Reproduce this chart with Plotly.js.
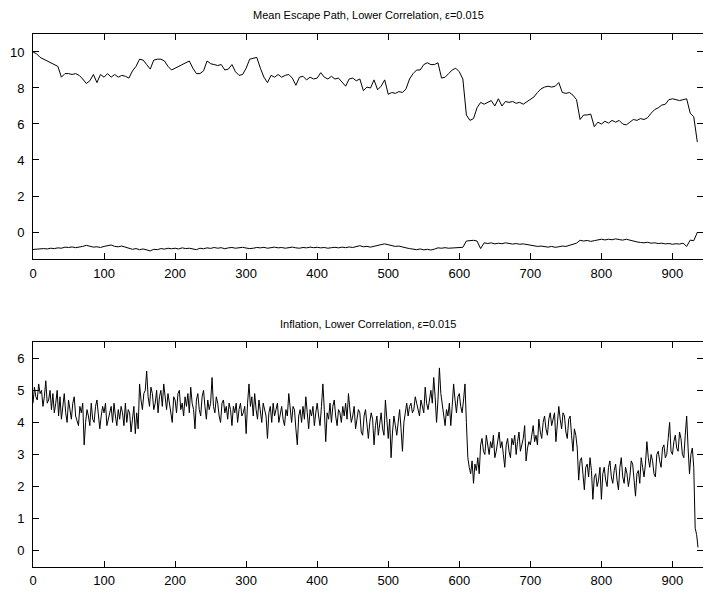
<!DOCTYPE html>
<html>
<head>
<meta charset="utf-8">
<script src="https://cdn.plot.ly/plotly-3.0.1.min.js"></script>
<style>
html,body{margin:0;padding:0;background:#fff;}
#chart{width:703px;height:593px;}
</style>
</head>
<body>
<div id="chart"></div>
<script>
// Top panel: mean escape path, two components (sampled every 5 periods)
var escapeStep = 5;
var escapeUpper = [
10.0,9.9,9.7,9.6,9.5,9.4,9.3,9.2,8.6,8.8,
8.8,8.75,8.8,8.7,8.5,8.25,8.4,8.75,8.3,8.75,
8.6,8.8,8.6,8.75,8.6,8.7,8.65,8.55,8.95,9.2,
9.6,9.55,9.3,9.05,9.55,9.6,9.6,9.5,9.2,9.0,
9.1,9.2,9.3,9.4,9.5,9.1,8.8,8.8,8.95,9.5,
9.35,9.3,9.25,9.3,9.0,9.05,9.3,8.9,8.7,8.75,
9.1,9.6,9.65,9.7,9.1,8.6,8.3,8.7,8.6,8.75,
8.6,8.7,8.75,8.55,8.15,8.6,8.65,8.45,8.6,8.5,
8.55,8.85,8.6,8.5,8.65,8.5,8.55,8.3,8.1,8.5,
8.55,8.4,8.5,7.85,8.05,8.0,8.45,7.9,8.1,8.45,
7.65,7.75,7.7,7.8,7.75,7.95,8.5,8.8,9.0,9.0,
9.3,9.4,9.3,9.3,9.4,8.55,8.6,8.8,9.0,9.1,
8.9,8.5,6.5,6.2,6.3,6.9,7.2,7.1,7.2,7.3,
7.0,7.4,7.0,7.25,7.2,7.25,7.15,7.2,7.1,7.25,
7.35,7.5,7.75,7.95,8.05,8.1,8.05,8.1,8.3,7.75,
7.7,7.75,7.6,7.35,6.25,6.5,6.5,6.55,5.85,6.1,
6.0,6.15,6.05,6.2,6.1,6.2,6.0,5.95,6.1,6.25,
6.2,6.3,6.25,6.35,6.6,6.8,6.9,7.05,7.1,7.35,
7.4,7.35,7.3,7.35,7.4,6.6,6.4,5.0
];
var escapeLower = [
-0.97,-0.95,-0.96,-0.92,-0.94,-0.9,-0.92,-0.88,-0.9,-0.84,
-0.86,-0.83,-0.87,-0.85,-0.8,-0.74,-0.8,-0.84,-0.82,-0.86,
-0.8,-0.76,-0.72,-0.8,-0.82,-0.78,-0.84,-0.9,-0.96,-0.92,
-0.98,-0.94,-1.0,-1.05,-0.96,-0.98,-0.92,-0.95,-0.9,-0.93,
-0.9,-0.94,-0.88,-0.92,-0.9,-0.95,-0.98,-0.9,-0.93,-0.88,
-0.91,-0.86,-0.9,-0.87,-0.93,-0.88,-0.86,-0.9,-0.88,-0.85,
-0.89,-0.92,-0.9,-0.86,-0.88,-0.85,-0.9,-0.87,-0.84,-0.88,
-0.86,-0.9,-0.87,-0.84,-0.88,-0.9,-0.86,-0.88,-0.84,-0.87,
-0.85,-0.88,-0.86,-0.9,-0.87,-0.85,-0.88,-0.84,-0.87,-0.83,
-0.86,-0.8,-0.76,-0.82,-0.8,-0.84,-0.78,-0.75,-0.7,-0.66,
-0.7,-0.74,-0.8,-0.78,-0.85,-0.88,-0.92,-0.95,-0.98,-0.94,
-0.99,-0.96,-1.0,-0.95,-0.88,-0.9,-0.87,-0.9,-0.88,-0.86,
-0.88,-0.85,-0.5,-0.48,-0.46,-0.5,-0.92,-0.6,-0.64,-0.6,
-0.66,-0.62,-0.65,-0.6,-0.63,-0.67,-0.64,-0.68,-0.66,-0.7,
-0.72,-0.76,-0.8,-0.78,-0.82,-0.84,-0.8,-0.85,-0.82,-0.78,
-0.8,-0.74,-0.7,-0.62,-0.46,-0.5,-0.47,-0.52,-0.48,-0.42,
-0.4,-0.44,-0.4,-0.43,-0.38,-0.42,-0.45,-0.4,-0.46,-0.5,
-0.55,-0.58,-0.6,-0.57,-0.62,-0.6,-0.64,-0.62,-0.66,-0.64,
-0.68,-0.65,-0.67,-0.62,-0.8,-0.45,-0.48,-0.02
];

// Bottom panel: inflation (sampled every 2 periods)
var inflStep = 2;
var inflation = [
4.6,5.1,4.8,4.7,5.2,4.9,5.0,4.5,4.8,5.3,4.6,4.7,5.0,4.4,4.9,4.3,4.6,5.0,4.2,4.8,4.1,4.5,4.9,4.3,4.0,4.7,4.4,4.1,4.6,4.8,4.2,4.0,3.9,4.5,4.3,4.6,3.3,4.0,4.4,4.2,3.9,4.6,4.1,4.0,4.5,4.7,4.3,3.8,4.2,4.5,
4.3,4.6,3.9,4.1,4.4,4.5,4.0,4.6,4.2,3.9,4.4,4.1,4.5,4.3,3.9,4.6,4.0,4.4,4.3,3.7,4.1,4.5,3.65,4.3,3.8,5.2,4.7,4.4,4.9,5.0,5.6,4.8,4.5,5.1,4.9,4.4,4.6,5.0,4.3,4.8,5.0,4.5,5.2,4.7,4.4,4.9,4.6,4.2,4.0,4.8,
4.7,4.3,4.9,5.0,4.4,4.6,4.2,4.8,4.5,4.9,4.3,5.1,4.6,4.4,3.8,4.7,4.9,4.4,4.2,4.8,5.0,4.5,4.1,4.7,4.4,4.6,5.4,4.5,4.3,4.8,4.6,4.2,4.0,4.6,4.7,4.3,4.5,4.1,4.6,4.4,3.9,4.5,4.3,4.6,4.0,4.4,4.6,4.2,4.3,4.5,
3.65,4.6,5.2,4.5,4.8,4.2,4.9,4.4,4.1,4.7,4.3,4.0,4.6,4.4,4.2,3.5,4.3,4.5,4.0,4.6,4.2,4.4,4.6,4.0,4.3,4.5,4.1,3.9,4.4,4.2,4.9,4.3,4.0,4.5,4.4,3.8,3.3,4.2,4.4,4.0,4.5,4.1,4.8,4.3,3.8,4.4,4.2,4.5,3.9,4.3,
4.6,4.2,3.9,4.5,5.2,4.4,3.4,4.3,4.1,4.6,4.0,4.5,4.7,4.2,3.9,4.4,4.3,4.0,4.5,4.2,4.6,4.1,4.9,4.4,4.0,4.2,4.5,3.8,4.1,4.4,4.3,3.7,3.6,4.2,4.4,3.9,3.5,4.0,4.3,4.1,3.3,3.9,4.2,3.6,4.0,4.3,3.8,3.6,4.7,4.1,
3.5,4.1,2.9,3.7,4.2,3.9,3.6,4.0,4.4,3.8,3.1,4.0,4.3,4.6,4.2,4.5,4.6,4.3,4.4,4.8,4.6,4.4,4.2,4.7,4.5,4.3,5.1,4.6,4.4,4.8,5.0,4.6,5.4,4.8,4.0,4.7,5.7,4.9,4.5,4.3,3.9,4.4,4.2,4.6,3.9,4.5,5.2,4.7,4.3,4.8,
4.9,4.5,4.3,4.7,5.2,4.0,2.9,2.6,2.4,2.8,2.1,2.7,2.5,2.9,2.4,3.3,3.5,3.1,3.0,3.6,3.3,3.0,3.4,3.2,3.6,2.9,3.1,3.4,3.7,3.2,3.4,3.0,2.6,3.3,3.5,3.1,2.9,3.5,3.3,3.6,3.0,3.4,3.7,3.1,3.3,3.5,3.9,2.8,3.2,3.4,
3.3,3.7,3.9,3.4,3.6,3.3,4.1,3.7,3.5,4.0,4.2,3.8,3.6,4.1,4.3,3.9,4.1,4.3,3.4,4.0,4.5,4.1,3.8,4.3,4.2,3.7,3.5,4.1,4.2,3.6,3.1,3.8,3.6,3.2,2.2,2.8,2.9,2.4,1.9,2.6,2.7,2.3,2.9,2.5,1.6,2.3,2.4,2.0,2.2,2.6,
1.6,2.4,2.6,2.2,2.0,2.6,2.8,2.3,2.1,2.5,2.7,2.2,1.9,2.6,2.9,2.3,2.1,2.6,2.4,2.0,2.3,2.8,2.7,2.2,1.7,2.4,2.5,2.1,2.9,2.6,2.3,2.7,3.4,2.9,2.6,3.0,2.8,2.4,2.3,3.0,3.1,2.8,2.6,3.2,3.3,2.9,3.0,3.5,4.0,3.1,
3.0,3.4,3.6,3.2,3.1,3.7,3.5,3.0,2.9,3.6,4.2,3.2,2.4,3.0,3.2,2.6,0.7,0.5,0.1
];

function periods(n, step){ var a=[]; for(var i=0;i<n;i++) a.push(i*step); return a; }

var font = 'Liberation Sans, Arial, Helvetica, sans-serif';
var traces = [
  {x: periods(escapeUpper.length, escapeStep), y: escapeUpper, type:'scatter', mode:'lines',
   line:{color:'#000', width:1}, xaxis:'x', yaxis:'y', hoverinfo:'skip'},
  {x: periods(escapeLower.length, escapeStep), y: escapeLower, type:'scatter', mode:'lines',
   line:{color:'#000', width:1}, xaxis:'x', yaxis:'y', hoverinfo:'skip'},
  {x: periods(inflation.length, inflStep), y: inflation, type:'scatter', mode:'lines',
   line:{color:'#000', width:1}, xaxis:'x2', yaxis:'y2', hoverinfo:'skip'}
];

var xTicks = [0,100,200,300,400,500,600,700,800,900];
function xaxis(anchor){
  return {anchor:anchor, domain:[0,1], range:[0,943], tickvals:xTicks, ticktext:xTicks.map(String),
    ticks:'inside', ticklen:6, tickcolor:'#000', showline:true, linecolor:'#000', linewidth:1,
    mirror:'ticks', showgrid:false, zeroline:false, ticklabelstandoff:2,
    tickfont:{family:font, size:13, color:'#000'}};
}
function yaxis(anchor, domain, range, vals){
  return {anchor:anchor, domain:domain, range:range, tickvals:vals, ticktext:vals.map(String),
    ticks:'inside', ticklen:6, tickcolor:'#000', showline:true, linecolor:'#000', linewidth:1,
    mirror:'ticks', showgrid:false, zeroline:false, ticklabelstandoff:5,
    tickfont:{family:font, size:13, color:'#000'}};
}

var layout = {
  width:703, height:593,
  margin:{l:33, r:0, t:0, b:0},
  paper_bgcolor:'#fff', plot_bgcolor:'#fff',
  showlegend:false,
  xaxis: xaxis('y'),
  yaxis: yaxis('x', [0.5632,0.9427], [-1.5,11], [0,2,4,6,8,10]),
  xaxis2: xaxis('y2'),
  yaxis2: yaxis('x2', [0.0444,0.4228], [-0.5,6.5], [0,1,2,3,4,5,6]),
  annotations:[
    {text:'Mean Escape Path, Lower Correlation, ε=0.015', xref:'paper', yref:'paper',
     x:0.5, y:1-15/593, xanchor:'center', yanchor:'middle', showarrow:false,
     font:{family:font, size:11, color:'#000'}},
    {text:'Inflation, Lower Correlation, ε=0.015', xref:'paper', yref:'paper',
     x:0.5, y:1-324/593, xanchor:'center', yanchor:'middle', showarrow:false,
     font:{family:font, size:11, color:'#000'}}
  ]
};

Plotly.newPlot('chart', traces, layout, {staticPlot:true, displayModeBar:false});
</script>
</body>
</html>
